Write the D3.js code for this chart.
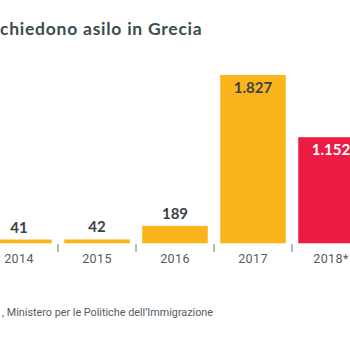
<!DOCTYPE html>
<html><head><meta charset="utf-8">
<script src="https://cdn.jsdelivr.net/npm/d3@7"></script>
<style>html,body{margin:0;padding:0;background:#fff;overflow:hidden}</style>
</head><body>
<script>
const years = ["2014","2015","2016","2017","2018*"];
const values = [41, 42, 189, 1827, 1152];
const labels = ["41","42","189","1.827","1.152"];
const highlight = [false,false,false,false,true];
const titleText = "chiedono asilo in Grecia";
const sourceText = ", Ministero per le Politiche dell\u2019Immigrazione";

const W = 350, H = 350;
const svg = d3.select("body").append("svg").attr("width", W).attr("height", H);

const x = d3.scaleBand().domain(years).range([-20, 370]).paddingInner(0.16).paddingOuter(0.08);
const baseY = 243.3;
const y = d3.scaleLinear().domain([0, 1827]).range([baseY, 75]);

svg.append("text").attr("x", 0).attr("y", 35)
  .attr("font-family", "Lato").attr("font-weight", 700).attr("font-size", 17.5)
  .attr("letter-spacing", 0.75)
  .attr("fill", "#3b4d4f").text(titleText);

svg.selectAll("rect.bar").data(years).enter().append("rect")
  .attr("x", d => x(d)).attr("width", x.bandwidth())
  .attr("y", (d,i) => y(values[i])).attr("height", (d,i) => baseY - y(values[i]))
  .attr("fill", (d,i) => highlight[i] ? "#ec1c45" : "#fbb41b");

svg.selectAll("text.val").data(years).enter().append("text")
  .attr("x", d => x(d) + x.bandwidth()/2)
  .attr("y", (d,i) => values[i] > 500 ? y(values[i]) + 18 : y(values[i]) - 7)
  .attr("text-anchor", "middle")
  .attr("font-family", "Lato").attr("font-weight", 700).attr("font-size", 15)
  .attr("fill", (d,i) => highlight[i] ? "#ffffff" : "#3a4446")
  .text((d,i) => labels[i]);

const step = x.step();
const tickPos = years.slice(1).map(d => x(d) - step*x.paddingInner()/2);
svg.selectAll("line.tick").data(tickPos).enter().append("line")
  .attr("x1", d => d).attr("x2", d => d)
  .attr("y1", baseY + 0.7).attr("y2", 252)
  .attr("stroke", "#6b7375").attr("stroke-width", 1);

svg.selectAll("text.yr").data(years).enter().append("text")
  .attr("x", d => x(d) + x.bandwidth()/2).attr("y", 262.5)
  .attr("text-anchor", "middle")
  .attr("font-family", "Roboto").attr("font-size", 12.5).attr("letter-spacing", 0.4)
  .attr("fill", "#555b5d").text(d => d);

svg.append("text").attr("x", 2).attr("y", 315.5)
  .attr("font-family", "Roboto").attr("font-size", 10.8)
  .attr("fill", "#555b5d").text(sourceText);
</script>
</body></html>
